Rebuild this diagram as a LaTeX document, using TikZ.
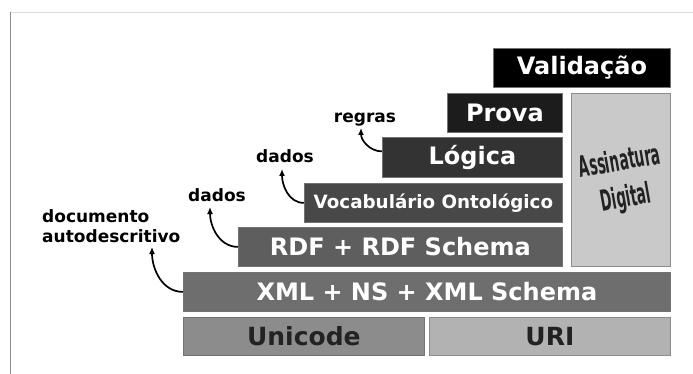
\documentclass[tikz,border=0pt]{standalone}
\usepackage{fontspec}
\usepackage{graphicx}
\setmainfont{DejaVu Sans}
\newfontfamily\condfont{DejaVu Sans Condensed}
\usetikzlibrary{arrows.meta,calc}
\definecolor{cVal}{HTML}{000000}
\definecolor{cProva}{HTML}{1C1C1C}
\definecolor{cLog}{HTML}{333333}
\definecolor{cVoc}{HTML}{484848}
\definecolor{cRdf}{HTML}{5E5E5E}
\definecolor{cXml}{HTML}{6E6E6E}
\definecolor{cUni}{HTML}{8C8C8C}
\definecolor{cUri}{HTML}{B2B2B2}
\definecolor{cSig}{HTML}{C9C9C9}
\definecolor{cDark}{HTML}{222222}
\begin{document}
\begin{tikzpicture}[x=1pt,y=-1pt,
  layer/.style={draw=black!55, line width=0.8pt, inner sep=0pt, anchor=north west,
    text=white, font=\bfseries\fontsize{24}{28}\selectfont, minimum height=39pt},
  baselayer/.style={layer, text=cDark, font=\bfseries\fontsize{25}{29}\selectfont},
  lbl/.style={inner sep=0pt, font=\bfseries\fontsize{17}{20}\selectfont, text=black},
  conn/.style={line width=1.7pt, -{Latex[length=7pt,width=6pt]}}]
\useasboundingbox (0,0) rectangle (693,374);
\fill[white] (0,0) rectangle (693,374);
\draw[black!15, line width=0.8pt] (10,12) -- (693,12);
\draw[black!45, line width=0.8pt] (10,12) -- (10,374);
% layers
\node[layer, fill=cVal, minimum width=177pt] (val) at (493,48) {Validação};
\node[layer, fill=cProva, minimum width=115pt] (prova) at (447,93) {Prova};
\node[layer, fill=cSig, minimum width=99pt, minimum height=173pt, draw=black!45] (sig) at (571,93) {};
\node[layer, fill=cLog, minimum width=180pt, minimum height=40pt] (logica) at (382,137) {Lógica};
\node[layer, fill=cVoc, minimum width=258pt, font=\bfseries\fontsize{18.3}{22}\selectfont] (voc) at (304,183) {Vocabulário Ontológico};
\node[layer, fill=cRdf, minimum width=324pt] (rdf) at (238,227) {RDF + RDF Schema};
\node[layer, fill=cXml, minimum width=487pt] (xml) at (183,272) {XML + NS + XML Schema};
\node[baselayer, fill=cUni, minimum width=241pt, minimum height=38pt] (uni) at (183,317) {Unicode};
\node[baselayer, fill=cUri, minimum width=241pt, minimum height=38pt, draw=black!45] (uri) at (429,317) {URI};
% signature text
\node[inner sep=0pt, rotate=10, align=center, text=cDark,
  font=\condfont\bfseries\fontsize{29}{37}\selectfont] (sigt) at (623,181)
  {\scalebox{0.52}[1]{Assinatura}\\\scalebox{0.52}[1]{Digital}};
% labels
\node[lbl, anchor=base] (regras) at (365,123) {regras};
\node[lbl, anchor=base] (dados2) at (285,163) {dados};
\node[lbl, anchor=base] (dados1) at (217,202) {dados};
\node[lbl, anchor=north west, align=left] (doc) at (42,209) {documento\\autodescritivo};
% arrow tips
\coordinate (t4) at (361,128);
\coordinate (t3) at (282,169);
\coordinate (t2) at (210,207);
\coordinate (t1) at (152,247);
\draw[conn] ($(logica.west)+(0,-6)$) to[out=180,in=-90] (t4);
\draw[conn] (voc.west) to[out=180,in=-90] (t3);
\draw[conn] (rdf.west) to[out=180,in=-90] (t2);
\draw[conn] (xml.west) to[out=180,in=-90] (t1);
\end{tikzpicture}
\end{document}
